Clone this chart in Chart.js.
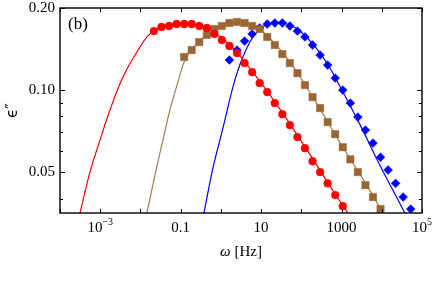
<!DOCTYPE html>
<html>
<head>
<meta charset="utf-8">
<script src="https://cdn.jsdelivr.net/npm/chart.js@4.4.0/dist/chart.umd.min.js"></script>
<style>
  html, body { margin: 0; padding: 0; background: #fff; }
</style>
</head>
<body>
<canvas id="chart" width="436" height="300"></canvas>
<script>
// measured loss peaks, frequency in Hz
const redFreq = [0.0216, 0.0333, 0.0514, 0.0791, 0.122, 0.188, 0.290, 0.447, 0.688, 1.06, 1.63, 2.52, 3.88,
                 5.97, 9.21, 14.2, 21.9, 33.7, 51.9, 80.0, 123, 190, 293, 451, 695, 1072];
const redEps = [0.1646, 0.1704, 0.1718, 0.1747, 0.1747, 0.1747, 0.1718, 0.1689, 0.1606, 0.1526, 0.1451, 0.1367, 0.1256,
                0.1164, 0.1061, 0.0983, 0.0896, 0.0816, 0.0744, 0.0672, 0.0612, 0.0548, 0.0500, 0.0455, 0.0412, 0.0375];

const brownFreq = [0.122, 0.188, 0.290, 0.447, 0.688, 1.06, 1.63, 2.52, 3.88, 5.97, 9.21, 14.2, 21.9, 33.7,
                   51.9, 80.0, 123, 190, 293, 451, 695, 1072, 1652, 2545, 3921, 6040, 9310];
const brownEps = [0.1322, 0.1402, 0.1500, 0.1593, 0.1675, 0.1718, 0.1762, 0.1777, 0.1762, 0.1718, 0.1675, 0.1566, 0.1463, 0.1355,
                  0.1256, 0.1154, 0.1043, 0.0942, 0.0859, 0.0763, 0.0689, 0.0617, 0.0557, 0.0500, 0.0448, 0.0405, 0.0366];

const blueFreq = [1.63, 2.52, 3.88, 5.97, 9.21, 14.2, 21.9, 33.7, 51.9, 80.0, 123, 190, 293, 451, 695, 1072,
                  1652, 2545, 3921, 6040, 9310, 14350, 22100, 34050, 52500];
const blueEps = [0.1289, 0.1402, 0.1513, 0.1606, 0.1689, 0.1747, 0.1762, 0.1762, 0.1718, 0.1646, 0.1566, 0.1463, 0.1344, 0.1235, 0.1107, 0.1000,
                 0.0896, 0.0796, 0.0713, 0.0639, 0.0567, 0.0509, 0.0455, 0.0405, 0.0366];

// fitted curves
const redFitFreq = [2.64e-4, 3.14e-4, 5.56e-4, 9.87e-4, 1.75e-3, 3.67e-3, 8.18e-3, 0.0145, 0.0216, 0.0406, 0.0957,
                    0.226, 0.533, 1.67, 4.18, 23.2, 129, 719, 1430, 1700];
const redFitEps = [0.0319, 0.0354, 0.0500, 0.0655, 0.0845, 0.1116, 0.1379, 0.1566, 0.1646, 0.1718, 0.1754,
                   0.1732, 0.1660, 0.1463, 0.1256, 0.0896, 0.0612, 0.0412, 0.0354, 0.0339];

const brownFitFreq = [0.01222, 0.0145, 0.0229, 0.0362, 0.0541, 0.0855, 0.1276, 0.201, 0.475, 1.12, 2.64, 6.24,
                      14.7, 54.8, 193, 1074, 4236, 10590, 11890];
const brownFitEps = [0.0319, 0.0354, 0.0487, 0.0655, 0.0845, 0.1070, 0.1289, 0.1426, 0.1606, 0.1732, 0.1792, 0.1732,
                     0.1578, 0.1256, 0.0942, 0.0617, 0.0448, 0.0354, 0.0342];

const blueFitFreq = [0.337, 0.378, 0.633, 0.944, 1.256, 1.99, 3.14, 5.25, 8.30, 14.7, 26.1, 51.8, 91.8, 205,
                     482, 957, 2838, 8913, 37240, 41800];
const blueFitEps = [0.0328, 0.0354, 0.0517, 0.0655, 0.0776, 0.1025, 0.1267, 0.1500, 0.1646, 0.1747, 0.1777, 0.1732, 0.1646, 0.1463,
                    0.1225, 0.1017, 0.0750, 0.0531, 0.0354, 0.0339];

// axes
const xTickVals = [1e-3, 0.1, 10, 1000, 1e5];
const xTickLabels = ['10', '0.1', '10', '1000', '10'];
const xTickExps = ['\u22123', '', '', '', '5'];
const xTickMarks = [1e-4, 1e-3, 1e-2, 0.1, 1, 10, 100, 1000, 1e4, 1e5];
const yTickVals = [0.05, 0.1, 0.2];
const yTickLabels = ['0.05', '0.10', '0.20'];
const yMinorMarks = [0.04, 0.06, 0.07, 0.08, 0.09];

const pts = (xs, ys) => xs.map((x, i) => ({ x: x, y: ys[i] }));

const serif = 'Liberation Serif, Times New Roman, serif';

const framePlugin = {
    id: 'frame',
    afterDatasetsDraw(chart) {
        const ctx = chart.ctx, a = chart.chartArea;
        const xs = chart.scales.x, ys = chart.scales.y;
        ctx.save();
        ctx.strokeStyle = '#000';
        ctx.lineWidth = 1;
        ctx.beginPath();
        xTickMarks.forEach(v => {
            const px = Math.round(xs.getPixelForValue(v)) + 0.5;
            ctx.moveTo(px, a.bottom); ctx.lineTo(px, a.bottom - 4);
            ctx.moveTo(px, a.top); ctx.lineTo(px, a.top + 4);
        });
        yTickVals.forEach(v => {
            const py = Math.round(ys.getPixelForValue(v)) + 0.5;
            ctx.moveTo(a.left, py); ctx.lineTo(a.left + 5, py);
            ctx.moveTo(a.right, py); ctx.lineTo(a.right - 5, py);
        });
        yMinorMarks.forEach(v => {
            const py = Math.round(ys.getPixelForValue(v)) + 0.5;
            ctx.moveTo(a.left, py); ctx.lineTo(a.left + 3, py);
            ctx.moveTo(a.right, py); ctx.lineTo(a.right - 3, py);
        });
        ctx.stroke();
        ctx.lineWidth = 1.4;
        ctx.strokeRect(a.left, a.top, a.right - a.left, a.bottom - a.top);

        ctx.fillStyle = '#000';
        ctx.textAlign = 'left';

        // x tick labels, with raised exponents
        ctx.textBaseline = 'alphabetic';
        xTickVals.forEach((v, i) => {
            const px = xs.getPixelForValue(v);
            ctx.font = '15px ' + serif;
            const wb = ctx.measureText(xTickLabels[i]).width;
            ctx.font = '10px ' + serif;
            const we = xTickExps[i] ? ctx.measureText(xTickExps[i]).width : 0;
            const x0 = px - (wb + we) / 2;
            ctx.font = '15px ' + serif;
            ctx.fillText(xTickLabels[i], x0, 232);
            if (we) {
                ctx.font = '10px ' + serif;
                ctx.fillText(xTickExps[i], x0 + wb, 225);
            }
        });

        // panel tag
        ctx.font = '17px ' + serif;
        ctx.fillText('(b)', a.left + 8, a.top + 21);

        // x title with italic omega
        ctx.font = 'italic 15px ' + serif;
        const w1 = ctx.measureText('\u03C9').width;
        ctx.font = '15px ' + serif;
        const w2 = ctx.measureText(' [Hz]').width;
        const cx = (a.left + a.right) / 2;
        const x0 = cx - (w1 + w2) / 2;
        ctx.textBaseline = 'middle';
        ctx.font = 'italic 15px ' + serif;
        ctx.fillText('\u03C9', x0, 252);
        ctx.font = '15px ' + serif;
        ctx.fillText(' [Hz]', x0 + w1, 252);

        // y title
        ctx.translate(13, (a.top + a.bottom) / 2);
        ctx.rotate(-Math.PI / 2);
        ctx.textAlign = 'center';
        ctx.font = '15px DejaVu Sans, sans-serif';
        ctx.fillText('\u03F5\u2033', 0, 0);
        ctx.restore();
    }
};

const fitLine = (data, color) => ({
    type: 'line',
    data: data,
    borderColor: color,
    borderWidth: 1.2,
    pointRadius: 0,
    fill: false,
    tension: 0.4,
    order: 2
});

const marks = (data, color, style, r) => ({
    type: 'scatter',
    data: data,
    backgroundColor: color,
    borderColor: color,
    borderWidth: 0.5,
    pointStyle: style,
    pointRadius: r,
    order: 1
});

new Chart(document.getElementById('chart'), {
    type: 'scatter',
    data: {
        datasets: [
            fitLine(pts(redFitFreq, redFitEps), '#ff0000'),
            fitLine(pts(brownFitFreq, brownFitEps), '#a87c50'),
            fitLine(pts(blueFitFreq, blueFitEps), '#0000ff'),
            marks(pts(redFreq, redEps), '#ff0000', 'circle', 3.9),
            marks(pts(brownFreq, brownEps), '#9a6634', 'rect', 5.2),
            marks(pts(blueFreq, blueEps), '#0000ff', 'rectRot', 4.4)
        ]
    },
    options: {
        responsive: false,
        animation: false,
        devicePixelRatio: 1,
        layout: { padding: { top: 8, right: 14, bottom: 0, left: 0 } },
        plugins: { legend: { display: false }, tooltip: { enabled: false } },
        scales: {
            x: {
                type: 'logarithmic',
                min: 1e-4,
                max: 1e5,
                afterBuildTicks: s => { s.ticks = xTickVals.map(v => ({ value: v })); },
                afterFit: s => { s.height = 87; },
                grid: { display: false, drawTicks: false },
                border: { display: false },
                ticks: { display: false }
            },
            y: {
                type: 'logarithmic',
                min: 0.0354,
                max: 0.2,
                afterBuildTicks: s => { s.ticks = yTickVals.map(v => ({ value: v })); },
                afterFit: s => { s.width = 60; s.paddingTop = 0; },
                grid: { display: false, drawTicks: false },
                border: { display: false },
                ticks: {
                    padding: 5,
                    color: '#000',
                    font: { family: serif, size: 15 },
                    callback: (v, i) => yTickLabels[i]
                }
            }
        }
    },
    plugins: [framePlugin]
});
</script>
</body>
</html>
